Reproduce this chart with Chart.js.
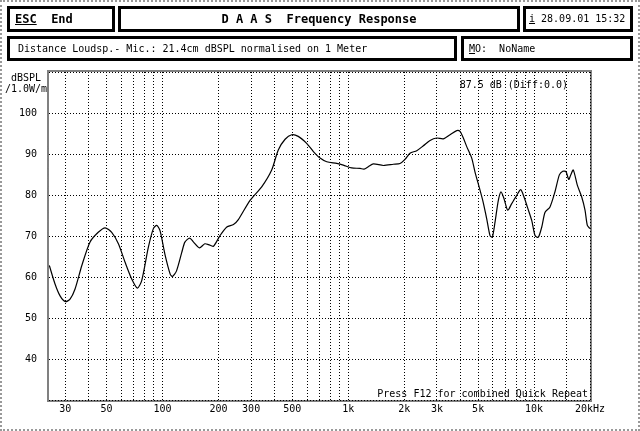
<!DOCTYPE html>
<html>
<head>
<meta charset="utf-8">
<script src="https://cdn.jsdelivr.net/npm/chart.js@4.4.0/dist/chart.umd.min.js"></script>
<style>
   html, body { margin: 0; padding: 0; background: #fff; }
   body {
      width: 640px; height: 431px; position: relative; overflow: hidden;
      font-family: "DejaVu Sans Mono", monospace; font-size: 10px; color: #000;
   }
   #chart { position: absolute; left: 0; top: 0; }
   .edge { position: absolute; left: 0; top: 0; width: 640px; height: 431px; box-sizing: border-box; border: 2px dotted #999; }
   .box { position: absolute; box-sizing: border-box; border: 3px solid #000; background: #fff; white-space: pre; }
   .b1 { top: 6px; height: 26px; line-height: 20px; font-weight: bold; font-size: 12px; }
   .b2 { top: 36px; height: 25px; line-height: 19px; }
   .ylab { position: absolute; text-align: center; white-space: pre; line-height: 11px; }
</style>
</head>
<body>
<canvas id="chart" width="640" height="431"></canvas>
<div class="edge"></div>
<div class="box b1" style="left:7px; width:108px; padding-left:5px;"><u>ESC</u>  End</div>
<div class="box b1" style="left:118px; width:402px; text-align:center;">D A A S  Frequency Response</div>
<div class="box b1" style="left:523px; width:110px; padding-left:3px; font-weight:normal; font-size:10px;"><u>i</u> 28.09.01 15:32</div>
<div class="box b2" style="left:7px; width:450px; padding-left:8px;">Distance Loudsp.- Mic.: 21.4cm dBSPL normalised on 1 Meter</div>
<div class="box b2" style="left:461px; width:172px; padding-left:5px;"><u>M</u>O:  NoName</div>
<div class="ylab" style="left:2px; top:72px; width:48px;">dBSPL
/1.0W/m</div>
<script>
   const freqHz = [
      24.6, 26.4, 28.1, 30, 31.8, 33.8, 36.8, 40.7, 45.1, 49.1,
      53.3, 57.9, 62.9, 68.3, 73.2, 77.3, 83.9, 89.3, 93.1, 97,
      103, 110, 113, 119, 127, 132, 140, 147, 158, 169,
      177, 188, 204, 222, 241, 256, 296, 342, 387, 420,
      457, 496, 538, 597, 649, 705, 766, 867, 940, 1043,
      1157, 1215, 1282, 1364, 1544, 1748, 1899, 2020, 2149, 2336,
      2535, 2754, 2992, 3247, 3528, 3835, 3995, 4161, 4340, 4617,
      4810, 5074, 5292, 5561, 5793, 5961, 6164, 6422, 6640, 6891,
      7214, 7581, 8065, 8475, 8829, 9197, 9712, 10120, 10540, 11000,
      11460, 12180, 12960, 13680, 14260, 14850, 15360, 15750, 16260, 17090,
      18050, 18800, 19350, 20000
   ];
   const splDb = [
      62.8, 58.3, 55.4, 54.0, 54.6, 57.0, 62.8, 68.5, 70.9, 72.0,
      70.9, 68.1, 63.6, 59.5, 57.3, 59.1, 67.2, 71.8, 72.6, 71.3,
      65.6, 60.7, 60.1, 61.5, 66.0, 68.5, 69.5, 68.5, 67.1, 68.1,
      67.9, 67.5, 70.1, 72.2, 72.8, 74.0, 78.7, 82.0, 86.1, 91.0,
      93.6, 94.7, 94.3, 92.6, 90.6, 89.0, 88.1, 87.7, 87.3, 86.6,
      86.5, 86.3, 86.9, 87.6, 87.2, 87.5, 87.7, 88.7, 90.2, 90.8,
      92.0, 93.3, 93.9, 93.7, 94.7, 95.7, 95.5, 93.9, 91.8, 89.0,
      85.6, 81.8, 78.7, 74.2, 70.1, 69.7, 73.4, 78.7, 80.8, 79.1,
      76.3, 77.9, 79.9, 81.3, 79.5, 77.1, 73.8, 70.1, 69.7, 72.2,
      75.8, 77.1, 80.8, 84.9, 85.8, 85.7, 83.8, 84.9, 86.1, 82.4,
      79.5, 76.3, 72.6, 71.8
   ];

   // x grid lines and the ones that get a label
   const gridHz = [30, 40, 50, 60, 70, 80, 90, 100, 200, 300, 400, 500, 600, 700, 800, 900,
      1000, 2000, 3000, 4000, 5000, 6000, 7000, 8000, 9000, 10000, 15000, 20000];
   const labelHz = [30, 50, 100, 200, 300, 500, 1000, 2000, 3000, 5000, 10000, 20000];
   const labelText = ["30", "50", "100", "200", "300", "500", "1k", "2k", "3k", "5k", "10k", "20kHz"];

   const readout = "87.5 dB (Diff:0.0)";
   const hint = "Press F12 for combined Quick Repeat";

   const font = { family: "DejaVu Sans Mono", size: 10 };

   const frame = {
      id: "frame",
      afterDraw(chart) {
         const ctx = chart.ctx;
         const a = chart.chartArea;
         ctx.save();
         ctx.strokeStyle = "#000";
         ctx.lineWidth = 1;
         ctx.setLineDash([1, 1]);
         ctx.strokeRect(a.left - 0.5, a.top - 0.5, a.right - a.left + 1, a.bottom - a.top + 1);
         ctx.lineDashOffset = 1;
         ctx.strokeRect(a.left - 1.5, a.top - 1.5, a.right - a.left + 3, a.bottom - a.top + 3);
         ctx.setLineDash([]);
         ctx.fillStyle = "#000";
         ctx.font = "10px 'DejaVu Sans Mono'";
         ctx.textAlign = "right";
         ctx.textBaseline = "alphabetic";
         ctx.fillText(readout, a.right - 22, a.top + 16);
         ctx.fillText(hint, a.right - 2, a.bottom - 3);
         ctx.restore();
      }
   };

   new Chart(document.getElementById("chart"), {
      type: "line",
      data: {
         datasets: [{
            data: freqHz.map((f, i) => ({ x: f, y: splDb[i] })),
            borderColor: "#000",
            borderWidth: 1.2,
            pointRadius: 0,
            tension: 0.25,
            fill: false
         }]
      },
      options: {
         responsive: false,
         animation: false,
         devicePixelRatio: 1,
         layout: { padding: { left: 0, top: 72, right: 50, bottom: 0 } },
         plugins: { legend: { display: false }, tooltip: { enabled: false } },
         scales: {
            x: {
               type: "logarithmic",
               min: 24.5,
               max: 20000,
               afterBuildTicks: (s) => { s.ticks = gridHz.map((v) => ({ value: v })); },
               afterFit: (s) => { s.height = 31; },
               grid: { color: "#000", lineWidth: 1, drawTicks: false },
               border: { display: false, dash: [1, 2] },
               ticks: {
                  autoSkip: false, maxRotation: 0, padding: 3, color: "#000", font: font,
                  callback: (v) => { const k = labelHz.indexOf(v); return k < 0 ? "" : labelText[k]; }
               }
            },
            y: {
               min: 30,
               max: 110,
               afterFit: (s) => { s.width = 49; },
               grid: { color: "#000", lineWidth: 1, drawTicks: false },
               border: { display: false, dash: [1, 2] },
               ticks: {
                  stepSize: 10, padding: 12, color: "#000", font: font,
                  callback: (v) => (v === 30 || v === 110 ? "" : v)
               }
            }
         }
      },
      plugins: [frame]
   });
</script>
</body>
</html>
